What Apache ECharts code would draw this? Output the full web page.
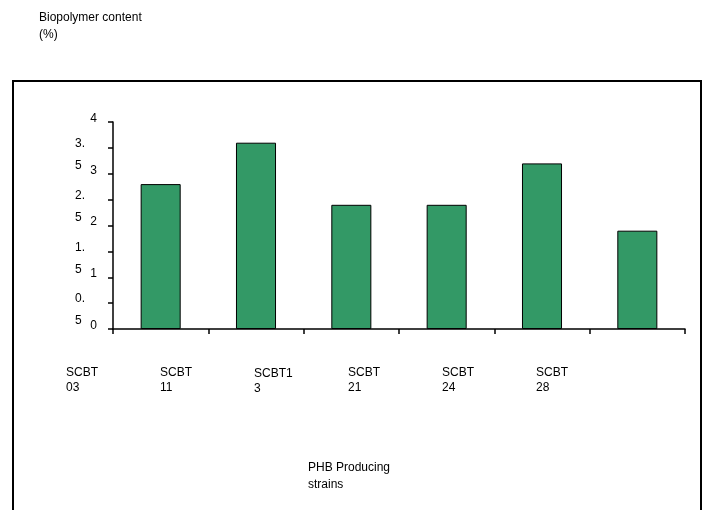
<!DOCTYPE html>
<html>
<head>
<meta charset="utf-8">
<script src="https://cdn.jsdelivr.net/npm/echarts@6/dist/echarts.min.js"></script>
<style>
  html, body { margin: 0; padding: 0; background: #fff; }
  #chart { width: 707px; height: 510px; }
</style>
</head>
<body>
<div id="chart"></div>
<script>
// PHB content of the producing strains
const strains = ['SCBT\n03', 'SCBT\n11', 'SCBT1\n3', 'SCBT\n21', 'SCBT\n24', 'SCBT\n28'];
const content = [2.8, 3.6, 2.4, 2.4, 3.2, 1.9];
const yTicks = { min: 0, max: 4, step: 0.5 };

const FONT = '"Liberation Sans", Arial, sans-serif';
const chart = echarts.init(document.getElementById('chart'));

const txt = (size, lh) => ({ fontFamily: FONT, fontSize: size, lineHeight: lh, color: '#000' });

chart.setOption({
  animation: false,
  textStyle: { fontFamily: FONT, color: '#000' },
  title: [
    {
      text: 'Biopolymer content\n(%)',
      left: 34, top: 4,
      textStyle: { fontFamily: FONT, fontSize: 12, fontWeight: 'normal', color: '#000', lineHeight: 17 }
    },
    {
      text: 'PHB Producing\nstrains',
      left: 303, top: 454,
      textStyle: { fontFamily: FONT, fontSize: 12, fontWeight: 'normal', color: '#000', lineHeight: 17 }
    }
  ],
  graphic: [{
    type: 'rect',
    shape: { x: 13, y: 81, width: 688, height: 440 },
    style: { fill: 'none', stroke: '#000', lineWidth: 2 },
    silent: true
  }],
  grid: [
    { left: 113, top: 122, width: 572, height: 207 },
    { left: 19, top: 122, width: 564, height: 207 }
  ],
  xAxis: [
    {
      type: 'category', gridIndex: 0,
      data: strains,
      axisLine: { lineStyle: { color: '#000', width: 1.5 } },
      axisTick: { show: true, length: 5, lineStyle: { color: '#000', width: 1.5 } },
      axisLabel: { show: false }
    },
    {
      // strain names, set one slot to the left of the bars
      type: 'category', gridIndex: 1,
      data: strains,
      axisLine: { show: false },
      axisTick: { show: false },
      axisLabel: {
        margin: 36,
        align: 'left',
        verticalAlign: 'top',
        fontSize: 12, lineHeight: 15, color: '#000', fontFamily: FONT,
        interval: 0,
        formatter: (v, i) => i === 2 ? '{s|' + v.replace('\n', '}\n{s|') + '}' : v,
        rich: { s: { fontSize: 12, lineHeight: 15, padding: [3, 0, 0, 0], fontFamily: FONT, color: '#000' } }
      }
    }
  ],
  yAxis: [
    {
      type: 'value', gridIndex: 0, position: 'left',
      min: yTicks.min, max: yTicks.max, interval: yTicks.step,
      splitLine: { show: false },
      axisLine: { show: true, lineStyle: { color: '#000', width: 1.5 } },
      axisTick: { show: true, length: 5, lineStyle: { color: '#000', width: 1.5 } },
      axisLabel: {
        margin: 16,
        formatter: v => (v % 1 === 0 ? '{i|' + v + '}\n{e| }' : ''),
        rich: { i: txt(12, 14), e: txt(6, 7) }
      }
    },
    {
      // half-step labels, wrapped over two lines
      type: 'value', gridIndex: 0, position: 'left', offset: 0,
      min: yTicks.min, max: yTicks.max, interval: yTicks.step,
      splitLine: { show: false },
      axisLine: { show: false },
      axisTick: { show: false },
      axisLabel: {
        margin: 38, align: 'left',
        formatter: v => {
          if (v % 1 === 0) return '';
          const [a, b] = String(v).split('.');
          return '{e| }\n{h|' + a + '.}\n{h|' + b + '}';
        },
        rich: { e: txt(6, 14), h: txt(12, 22) }
      }
    },
    {
      type: 'value', gridIndex: 1, show: false,
      min: yTicks.min, max: yTicks.max
    }
  ],
  series: [{
    type: 'bar',
    xAxisIndex: 0, yAxisIndex: 0,
    data: content,
    barWidth: '42%',
    itemStyle: { color: '#339966', borderColor: '#000', borderWidth: 1 }
  }]
});
</script>
</body>
</html>
